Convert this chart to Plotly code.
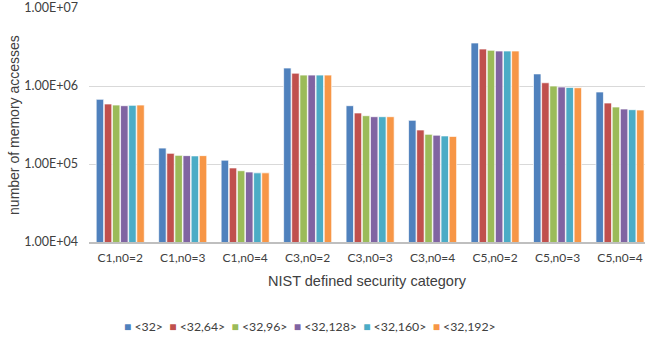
import plotly.graph_objects as go

categories = ["C1,n0=2", "C1,n0=3", "C1,n0=4", "C3,n0=2", "C3,n0=3", "C3,n0=4",
              "C5,n0=2", "C5,n0=3", "C5,n0=4"]
series_names = ["&lt;32&gt;", "&lt;32,64&gt;", "&lt;32,96&gt;", "&lt;32,128&gt;",
                "&lt;32,160&gt;", "&lt;32,192&gt;"]
colors = ["#4F81BD", "#C0504D", "#9BBB59", "#8064A2", "#4BACC6", "#F79646"]

s32 = [6.75e5, 1.60e5, 1.12e5, 1.70e6, 5.59e5, 3.63e5, 3.56e6, 1.43e6, 8.38e5]
s32_64 = [5.88e5, 1.37e5, 8.9e4, 1.46e6, 4.51e5, 2.73e5, 2.98e6, 1.10e6, 6.05e5]
s32_96 = [5.70e5, 1.29e5, 8.2e4, 1.38e6, 4.16e5, 2.40e5, 2.87e6, 1.00e6, 5.38e5]
s32_128 = [5.59e5, 1.28e5, 7.9e4, 1.38e6, 4.04e5, 2.34e5, 2.81e6, 9.7e5, 5.07e5]
s32_160 = [5.65e5, 1.27e5, 7.7e4, 1.38e6, 4.04e5, 2.29e5, 2.81e6, 9.6e5, 4.97e5]
s32_192 = [5.70e5, 1.28e5, 7.7e4, 1.38e6, 4.04e5, 2.26e5, 2.81e6, 9.5e5, 4.92e5]
all_series = [s32, s32_64, s32_96, s32_128, s32_160, s32_192]

tick_vals = [1e4, 1e5, 1e6, 1e7]
tick_text = ["1.00E+04", "1.00E+05", "1.00E+06", "1.00E+07"]

TITLE_FONT = "Liberation Sans, Arial, sans-serif"
TICK_FONT = "Lato, Open Sans, sans-serif"
TXT = "#404040"

fig = go.Figure()
for name, vals, col in zip(series_names, all_series, colors):
    fig.add_trace(go.Bar(
        x=categories, y=vals, name=name, showlegend=False,
        marker=dict(color=col, line=dict(color="white", width=0.7)),
    ))

# Legend drawn as text (compact Excel-style squares)
legend_parts = []
for name, col in zip(series_names, colors):
    legend_parts.append(
        f"<span style='color:{col};font-size:12px'>■</span> {name}")
legend_text = "  ".join(legend_parts)

fig.add_annotation(
    text=legend_text, xref="paper", yref="paper", x=0.397, y=-0.363,
    xanchor="center", yanchor="middle", showarrow=False,
    font=dict(family=TICK_FONT, size=12.3, color=TXT),
)

# Y-axis title
fig.add_annotation(
    text="number of memory accesses", xref="paper", yref="paper",
    x=-0.135, y=0.5, xanchor="center", yanchor="middle", textangle=-90,
    showarrow=False, font=dict(family=TITLE_FONT, size=14, color=TXT),
)

fig.update_layout(
    width=645, height=339,
    margin=dict(l=89, r=0, t=8, b=97),
    paper_bgcolor="white", plot_bgcolor="white",
    barmode="group", bargap=0.22, bargroupgap=0.08,
    font=dict(family=TICK_FONT, color=TXT, size=12),
    showlegend=False,
    xaxis=dict(
        type="category", range=[-0.5, 8.4], automargin=False,
        showgrid=False, showline=True, linecolor="#BFBFBF", linewidth=1.5,
        ticks="", ticklabelstandoff=4,
        tickfont=dict(family=TICK_FONT, size=12, color=TXT),
        title=dict(text="NIST defined security category",
                   font=dict(family=TITLE_FONT, size=14.5, color=TXT), standoff=12),
    ),
    yaxis=dict(
        type="log", range=[4, 7], automargin=False,
        tickvals=tick_vals, ticktext=tick_text,
        showgrid=True, gridcolor="#D9D9D9", gridwidth=1,
        zeroline=False, showline=False, ticks="", ticklabelstandoff=10,
        tickfont=dict(family=TICK_FONT, size=12.5, color=TXT),
    ),
)

fig.write_html("out.html", config={"displayModeBar": False},
               post_script="document.body.style.margin='0px';document.body.style.overflow='hidden';")
